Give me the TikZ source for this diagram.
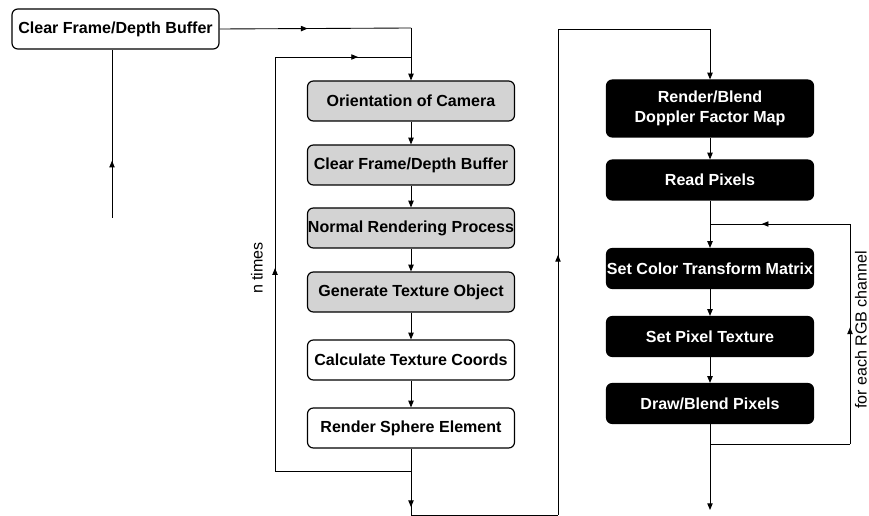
\documentclass[tikz,border=0pt]{standalone}
\usepackage{fontspec}
\setmainfont{Liberation Sans}
\usetikzlibrary{arrows.meta,decorations.markings}
\definecolor{boxgray}{RGB}{211,211,211}
\tikzset{
  flow/.tip={Triangle[length=2mm,width=1.6mm]},
  >=flow,
  stage/.style={draw,line width=1pt,rounded corners=5pt,minimum width=6.21cm,
    minimum height=1.2cm,inner sep=0pt,align=center,
    font=\bfseries\fontsize{13.7}{17}\selectfont},
  plainstage/.style={stage,fill=white},
  graystage/.style={stage,fill=boxgray},
  gpustage/.style={stage,fill=black,text=white},
  arrowat/.style={decoration={markings,mark=at position #1 with {\arrow{flow}}},
    postaction={decorate}},
  note/.style={font=\fontsize{13.7}{17}\selectfont,rotate=90}
}
\begin{document}
\begin{tikzpicture}[x=0.03cm,y=-0.03cm,line width=0.75pt]
  \useasboundingbox (0,0) rectangle (869,516);
  % boxes
  \node[plainstage] (clearA) at (115.5,29) {Clear Frame/Depth Buffer};
  \node[graystage] (orient) at (411,101) {Orientation of Camera};
  \node[graystage] (clearB) at (411,165) {Clear Frame/Depth Buffer};
  \node[graystage] (normal) at (411,228) {Normal Rendering Process};
  \node[graystage] (gentex) at (411,292) {Generate Texture Object};
  \node[plainstage] (calc) at (411,360) {Calculate Texture Coords};
  \node[plainstage] (sphere) at (411,428) {Render Sphere Element};
  \node[gpustage,minimum height=1.71cm] (blend) at (710,108.5) {Render/Blend\\Doppler Factor Map};
  \node[gpustage] (read) at (710,180) {Read Pixels};
  \node[gpustage] (setcol) at (710,268.5) {Set Color Transform Matrix};
  \node[gpustage] (setpix) at (710,336.5) {Set Pixel Texture};
  \node[gpustage] (drawpix) at (710,403.5) {Draw/Blend Pixels};
  % labels
  \node[note] (ntimes) at (257,268) {n times};
  \node[note] (rgb) at (861,330) {for each RGB channel};
  % corners of the connectors
  \coordinate (startL) at (112,218);
  \coordinate (t1) at (411,28);
  \coordinate (j2) at (411,471);
  \coordinate (l1) at (275,471);
  \coordinate (l2) at (275,57);
  \coordinate (l3) at (411,57);
  \coordinate (b1) at (411,515);
  \coordinate (b2) at (558,515);
  \coordinate (b3) at (558,29);
  \coordinate (b4) at (710,29);
  \coordinate (j3) at (710,224);
  \coordinate (j4) at (710,444);
  \coordinate (r1) at (850,444);
  \coordinate (r2) at (850,224);
  \coordinate (endR) at (710,510);
  % connectors
  \draw[arrowat=0.46] (clearA.east) -- (t1);
  \draw[->] (t1) -- (orient.north);
  \draw[arrowat=0.34] (startL) -- (startL |- clearA.south);
  \foreach \a/\b in {orient/clearB,clearB/normal,normal/gentex,gentex/calc,calc/sphere}
    \draw[->] (\a.south) -- (\b.north);
  \draw (sphere.south) -- (j2) -- (l1);
  \draw[arrowat=0.49] (l1) -- (l2);
  \draw[arrowat=0.61] (l2) -- (l3);
  \draw[arrowat=0.82] (j2) -- (b1);
  \draw (b1) -- (b2);
  \draw[arrowat=0.535] (b2) -- (b3);
  \draw (b3) -- (b4);
  \draw[->] (b4) -- (blend.north);
  \draw[->] (blend.south) -- (read.north);
  \draw (read.south) -- (j3);
  \draw[->] (j3) -- (setcol.north);
  \draw[->] (setcol.south) -- (setpix.north);
  \draw[->] (setpix.south) -- (drawpix.north);
  \draw (drawpix.south) -- (j4);
  \draw[->] (j4) -- (endR);
  \draw (j4) -- (r1);
  \draw[arrowat=0.53] (r1) -- (r2);
  \draw[arrowat=0.63] (r2) -- (j3);
\end{tikzpicture}
\end{document}
